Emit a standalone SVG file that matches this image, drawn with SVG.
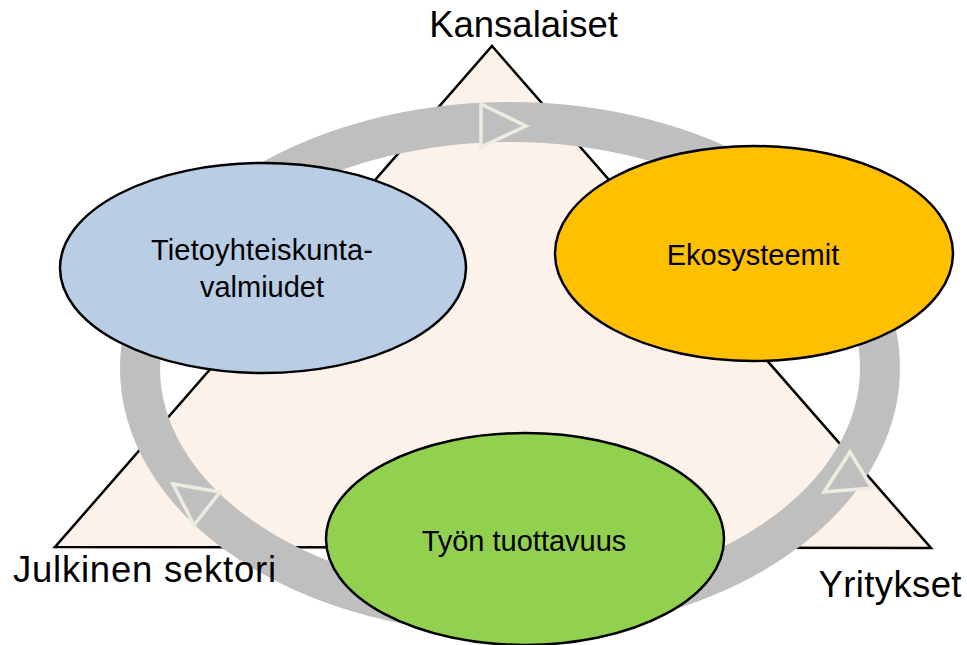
<svg xmlns="http://www.w3.org/2000/svg" width="967" height="645" viewBox="0 0 967 645">
<style>
  .lbl { font-family: "Liberation Sans", Arial, sans-serif; fill: #000; text-anchor: middle; }
  .big { font-size: 36.5px; }
  .inner { font-size: 29px; }
  .node { stroke: #000; stroke-width: 2.5; }
  .arrow { fill: #BFBFBF; stroke: #EEECE1; stroke-width: 3.5; stroke-linejoin: miter; }
</style>
<rect width="967" height="645" fill="#FFFFFF"/>
<g id="triangle">
  <polygon points="492,46 931,548 55,547" fill="#FDF2EA" stroke="#000" stroke-width="2.5" stroke-linejoin="miter"/>
</g>
<g id="connectors">
  <ellipse cx="510" cy="368" rx="370" ry="246" fill="none" stroke="#BFBFBF" stroke-width="40"/>
  <polygon class="arrow" points="481,104 481,147 526,126"/>
  <polygon class="arrow" points="173,484 220,492 194,525"/>
  <polygon class="arrow" points="850,452 824,492 872,488"/>
</g>
<g id="node-tietoyhteiskunta">
  <ellipse class="node" cx="263" cy="268" rx="203" ry="105" fill="#B9CDE5"/>
  <text class="lbl inner" x="262" y="260" textLength="222" lengthAdjust="spacing">Tietoyhteiskunta-</text>
  <text class="lbl inner" x="262" y="297">valmiudet</text>
</g>
<g id="node-ekosysteemit">
  <ellipse class="node" cx="754" cy="253.5" rx="199" ry="107.5" fill="#FFC000"/>
  <text class="lbl inner" x="753" y="265">Ekosysteemit</text>
</g>
<g id="node-tyon-tuottavuus">
  <ellipse class="node" cx="525" cy="539" rx="199" ry="106" fill="#92D050"/>
  <text class="lbl inner" x="524" y="551">Työn tuottavuus</text>
</g>
<g id="label-kansalaiset">
  <text class="lbl big" x="523.5" y="37">Kansalaiset</text>
</g>
<g id="label-julkinen-sektori">
  <text class="lbl big" x="144.5" y="582" textLength="263" lengthAdjust="spacing">Julkinen sektori</text>
</g>
<g id="label-yritykset">
  <text class="lbl big" x="890" y="597" textLength="143" lengthAdjust="spacing">Yritykset</text>
</g>
</svg>
